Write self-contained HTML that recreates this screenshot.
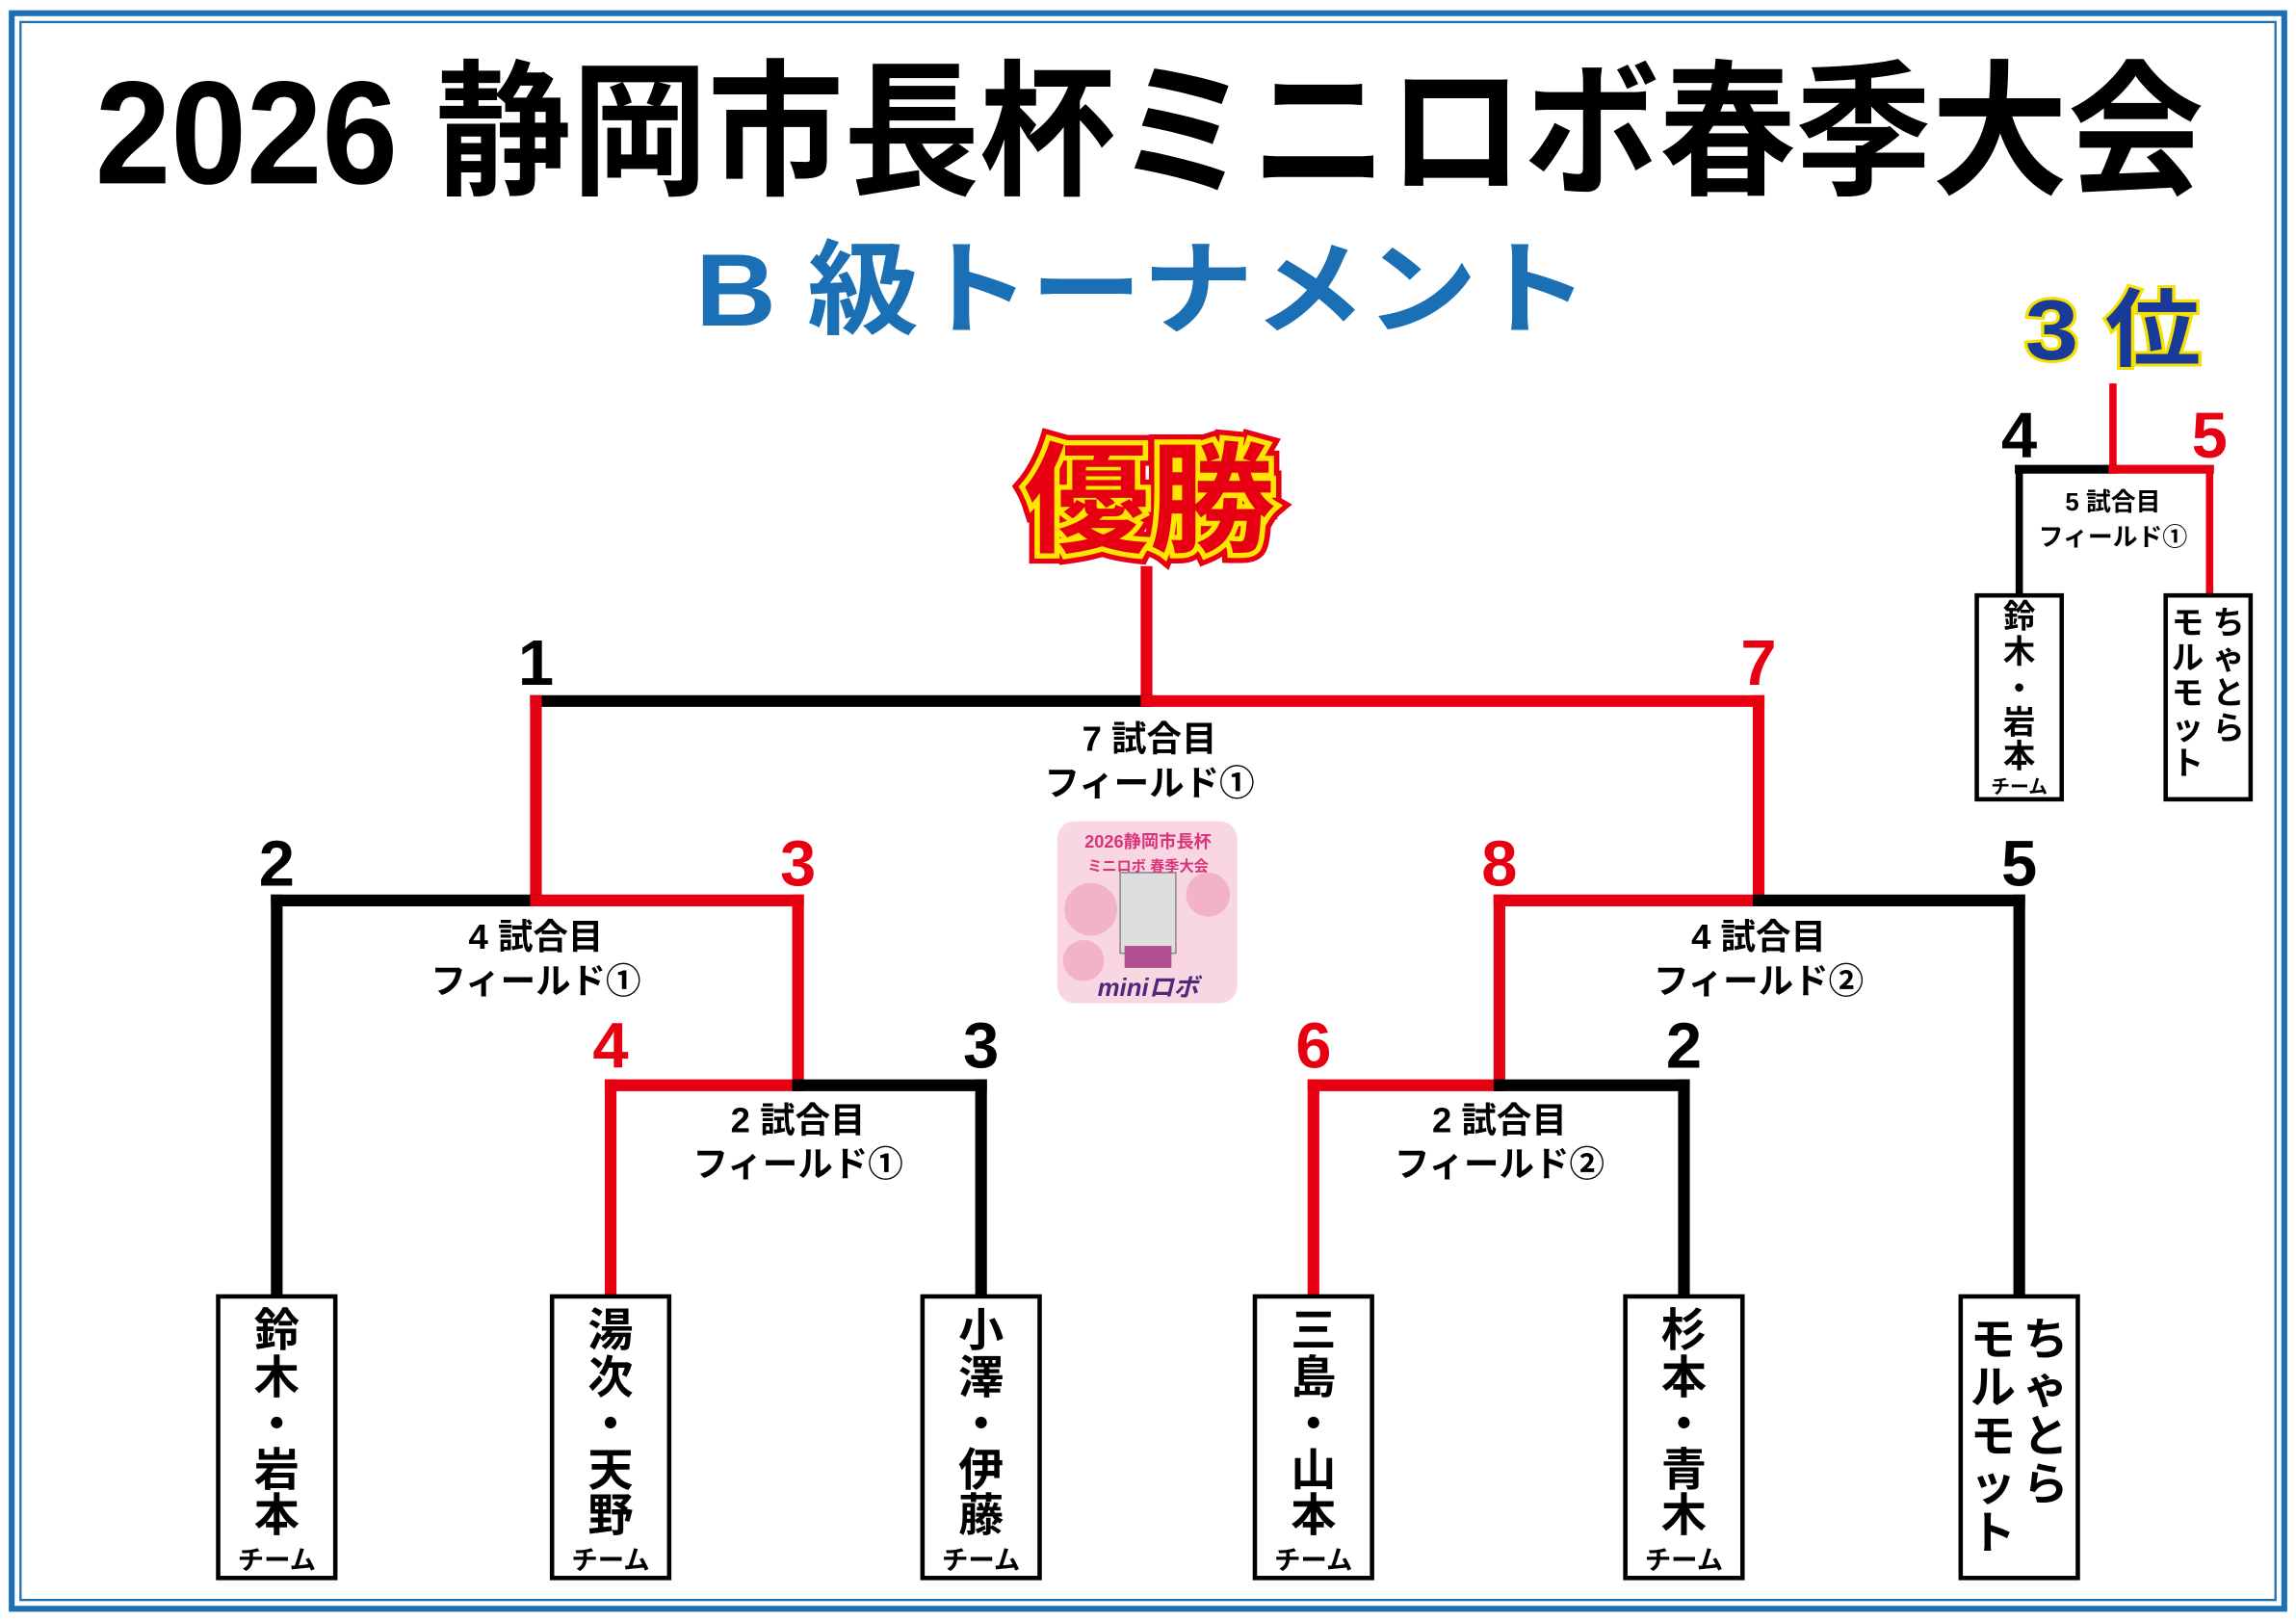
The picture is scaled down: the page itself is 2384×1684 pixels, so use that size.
<!DOCTYPE html>
<html><head><meta charset="utf-8"><style>
html,body{margin:0;padding:0;background:#fff}
svg{display:block}
text{font-family:"Liberation Sans","Noto Sans CJK JP",sans-serif;font-weight:bold}
</style></head><body>
<svg width="2384" height="1684" viewBox="0 0 1568 1106" preserveAspectRatio="none" xmlns="http://www.w3.org/2000/svg">
<rect x="0" y="0" width="1568" height="1106" fill="#fff"/>
<rect x="8" y="9" width="1552" height="1088" fill="none" stroke="#1a6fb5" stroke-width="4"/>
<rect x="14" y="15" width="1540" height="1076" fill="none" stroke="#1a6fb5" stroke-width="1.5"/>

<text x="785" y="125" text-anchor="middle" font-size="100" font-weight="900" textLength="1440" lengthAdjust="spacingAndGlyphs" fill="#000">2026 静岡市長杯ミニロボ春季大会</text>
<text x="780" y="222" text-anchor="middle" font-size="70" font-weight="900" textLength="610" lengthAdjust="spacingAndGlyphs" fill="#1a6fb5">B 級トーナメント</text>

<text x="1443" y="245" text-anchor="middle" font-size="58" font-weight="900" fill="#1a3a9a" stroke="#f5e000" stroke-width="4" paint-order="stroke" textLength="120" lengthAdjust="spacingAndGlyphs">3 位</text>

<text x="785" y="370" text-anchor="middle" font-size="82" font-weight="900" fill="#e60012" stroke="#e60012" stroke-width="14" paint-order="stroke" textLength="172" lengthAdjust="spacingAndGlyphs">優勝</text>
<text x="785" y="370" text-anchor="middle" font-size="82" font-weight="900" fill="#e60012" stroke="#ffe600" stroke-width="7" paint-order="stroke" textLength="172" lengthAdjust="spacingAndGlyphs">優勝</text>

<g stroke-width="8" fill="none" stroke-linecap="square">
<!-- final -->
<line x1="783" y1="390" x2="783" y2="478" stroke="#e60012"/>
<line x1="366" y1="478" x2="783" y2="478" stroke="#000"/>
<line x1="783" y1="478" x2="1201" y2="478" stroke="#e60012"/>
<line x1="366" y1="478" x2="366" y2="614" stroke="#e60012"/>
<line x1="1201" y1="478" x2="1201" y2="614" stroke="#e60012"/>
<!-- left semi -->
<line x1="189" y1="614" x2="366" y2="614" stroke="#000"/>
<line x1="366" y1="614" x2="545" y2="614" stroke="#e60012"/>
<line x1="189" y1="614" x2="189" y2="880" stroke="#000"/>
<line x1="545" y1="614" x2="545" y2="740" stroke="#e60012"/>
<line x1="417" y1="740" x2="545" y2="740" stroke="#e60012"/>
<line x1="545" y1="740" x2="670" y2="740" stroke="#000"/>
<line x1="417" y1="740" x2="417" y2="880" stroke="#e60012"/>
<line x1="670" y1="740" x2="670" y2="880" stroke="#000"/>
<!-- right semi -->
<line x1="1024" y1="614" x2="1201" y2="614" stroke="#e60012"/>
<line x1="1201" y1="614" x2="1379" y2="614" stroke="#000"/>
<line x1="1379" y1="614" x2="1379" y2="880" stroke="#000"/>
<line x1="1024" y1="614" x2="1024" y2="740" stroke="#e60012"/>
<line x1="897" y1="740" x2="1024" y2="740" stroke="#e60012"/>
<line x1="1024" y1="740" x2="1150" y2="740" stroke="#000"/>
<line x1="897" y1="740" x2="897" y2="880" stroke="#e60012"/>
<line x1="1150" y1="740" x2="1150" y2="880" stroke="#000"/>
<!-- 3rd -->
<line x1="1443" y1="264" x2="1443" y2="320" stroke="#e60012" stroke-width="5"/>
<line x1="1379" y1="320" x2="1443" y2="320" stroke="#000" stroke-width="6"/>
<line x1="1443" y1="320" x2="1509" y2="320" stroke="#e60012" stroke-width="6"/>
<line x1="1379" y1="320" x2="1379" y2="404" stroke="#000" stroke-width="5"/>
<line x1="1509" y1="320" x2="1509" y2="404" stroke="#e60012" stroke-width="5"/>
</g>

<g font-size="44" font-weight="900" text-anchor="middle">
<text x="366" y="467" fill="#000">1</text>
<text x="1201" y="467" fill="#e60012">7</text>
<text x="189" y="604" fill="#000">2</text>
<text x="545" y="604" fill="#e60012">3</text>
<text x="1024" y="604" fill="#e60012">8</text>
<text x="1379" y="604" fill="#000">5</text>
<text x="417" y="728" fill="#e60012">4</text>
<text x="670" y="728" fill="#000">3</text>
<text x="897" y="728" fill="#e60012">6</text>
<text x="1150" y="728" fill="#000">2</text>
<text x="1379" y="312" fill="#000">4</text>
<text x="1509" y="312" fill="#e60012">5</text>
</g>

<g font-size="24" text-anchor="middle" fill="#000">
<text x="785" y="512">7 試合目</text><text x="785" y="542">フィールド①</text>
<text x="366" y="647">4 試合目</text><text x="366" y="677">フィールド①</text>
<text x="1201" y="647">4 試合目</text><text x="1201" y="677">フィールド②</text>
<text x="545" y="772">2 試合目</text><text x="545" y="802">フィールド①</text>
<text x="1024" y="772">2 試合目</text><text x="1024" y="802">フィールド②</text>
<text x="1443" y="348" font-size="17">5 試合目</text><text x="1443" y="372" font-size="17">フィールド①</text>
</g>

<!-- logo -->
<rect x="722" y="560" width="123" height="124" rx="12" fill="#f8d6e2"/>
<circle cx="745" cy="620" r="18" fill="#f2b3c9"/>
<circle cx="825" cy="610" r="15" fill="#f2b3c9"/>
<circle cx="740" cy="655" r="14" fill="#f2b3c9"/>
<rect x="765" y="595" width="38" height="55" fill="#ddd" stroke="#888"/>
<rect x="768" y="645" width="32" height="15" fill="#b05090"/>
<text x="784" y="578" font-size="12" text-anchor="middle" fill="#d9347a" font-weight="900">2026静岡市長杯</text>
<text x="784" y="594" font-size="10" text-anchor="middle" fill="#d9347a">ミニロボ 春季大会</text>
<text x="784" y="679" font-size="17" text-anchor="middle" fill="#4a2a7a" font-weight="900" font-style="italic">miniロボ</text>

<!-- team boxes -->
<g fill="#fff" stroke="#000" stroke-width="3">
<rect x="149" y="884" width="80" height="192"/>
<rect x="377" y="884" width="80" height="192"/>
<rect x="630" y="884" width="80" height="192"/>
<rect x="857" y="884" width="80" height="192"/>
<rect x="1110" y="884" width="80" height="192"/>
<rect x="1339" y="884" width="80" height="192"/>
<rect x="1350" y="406" width="58" height="139"/>
<rect x="1479" y="406" width="58" height="139"/>
</g>
<g font-size="31" font-weight="900" text-anchor="middle" fill="#000">
<text x="189" y="918">鈴</text><text x="189" y="950">木</text><text x="189" y="982">・</text><text x="189" y="1013">岩</text><text x="189" y="1044">本</text>
<text x="417" y="918">湯</text><text x="417" y="950">次</text><text x="417" y="982">・</text><text x="417" y="1013">天</text><text x="417" y="1044">野</text>
<text x="670" y="918">小</text><text x="670" y="950">澤</text><text x="670" y="982">・</text><text x="670" y="1013">伊</text><text x="670" y="1044">藤</text>
<text x="897" y="918">三</text><text x="897" y="950">島</text><text x="897" y="982">・</text><text x="897" y="1013">山</text><text x="897" y="1044">本</text>
<text x="1150" y="918">杉</text><text x="1150" y="950">本</text><text x="1150" y="982">・</text><text x="1150" y="1013">青</text><text x="1150" y="1044">木</text>
<text x="1397" y="924">ち</text><text x="1397" y="957">ゃ</text><text x="1397" y="990">と</text><text x="1397" y="1023">ら</text>
<text x="1361" y="924">モ</text><text x="1361" y="957">ル</text><text x="1361" y="990">モ</text><text x="1361" y="1023">ッ</text><text x="1361" y="1056">ト</text>
</g>
<g font-size="18" font-weight="900" text-anchor="middle" fill="#000">
<text x="189" y="1070">チーム</text><text x="417" y="1070">チーム</text><text x="670" y="1070">チーム</text><text x="897" y="1070">チーム</text><text x="1150" y="1070">チーム</text>
<text x="1379" y="541" font-size="13">チーム</text>
</g>
<g font-size="22" font-weight="900" text-anchor="middle" fill="#000">
<text x="1379" y="428">鈴</text><text x="1379" y="452">木</text><text x="1379" y="477">・</text><text x="1379" y="500">岩</text><text x="1379" y="523">本</text>
<text x="1522" y="432">ち</text><text x="1522" y="456">ゃ</text><text x="1522" y="480">と</text><text x="1522" y="504">ら</text>
<text x="1494" y="432">モ</text><text x="1494" y="456">ル</text><text x="1494" y="480">モ</text><text x="1494" y="504">ッ</text><text x="1494" y="528">ト</text>
</g>
</svg>
</body></html>
